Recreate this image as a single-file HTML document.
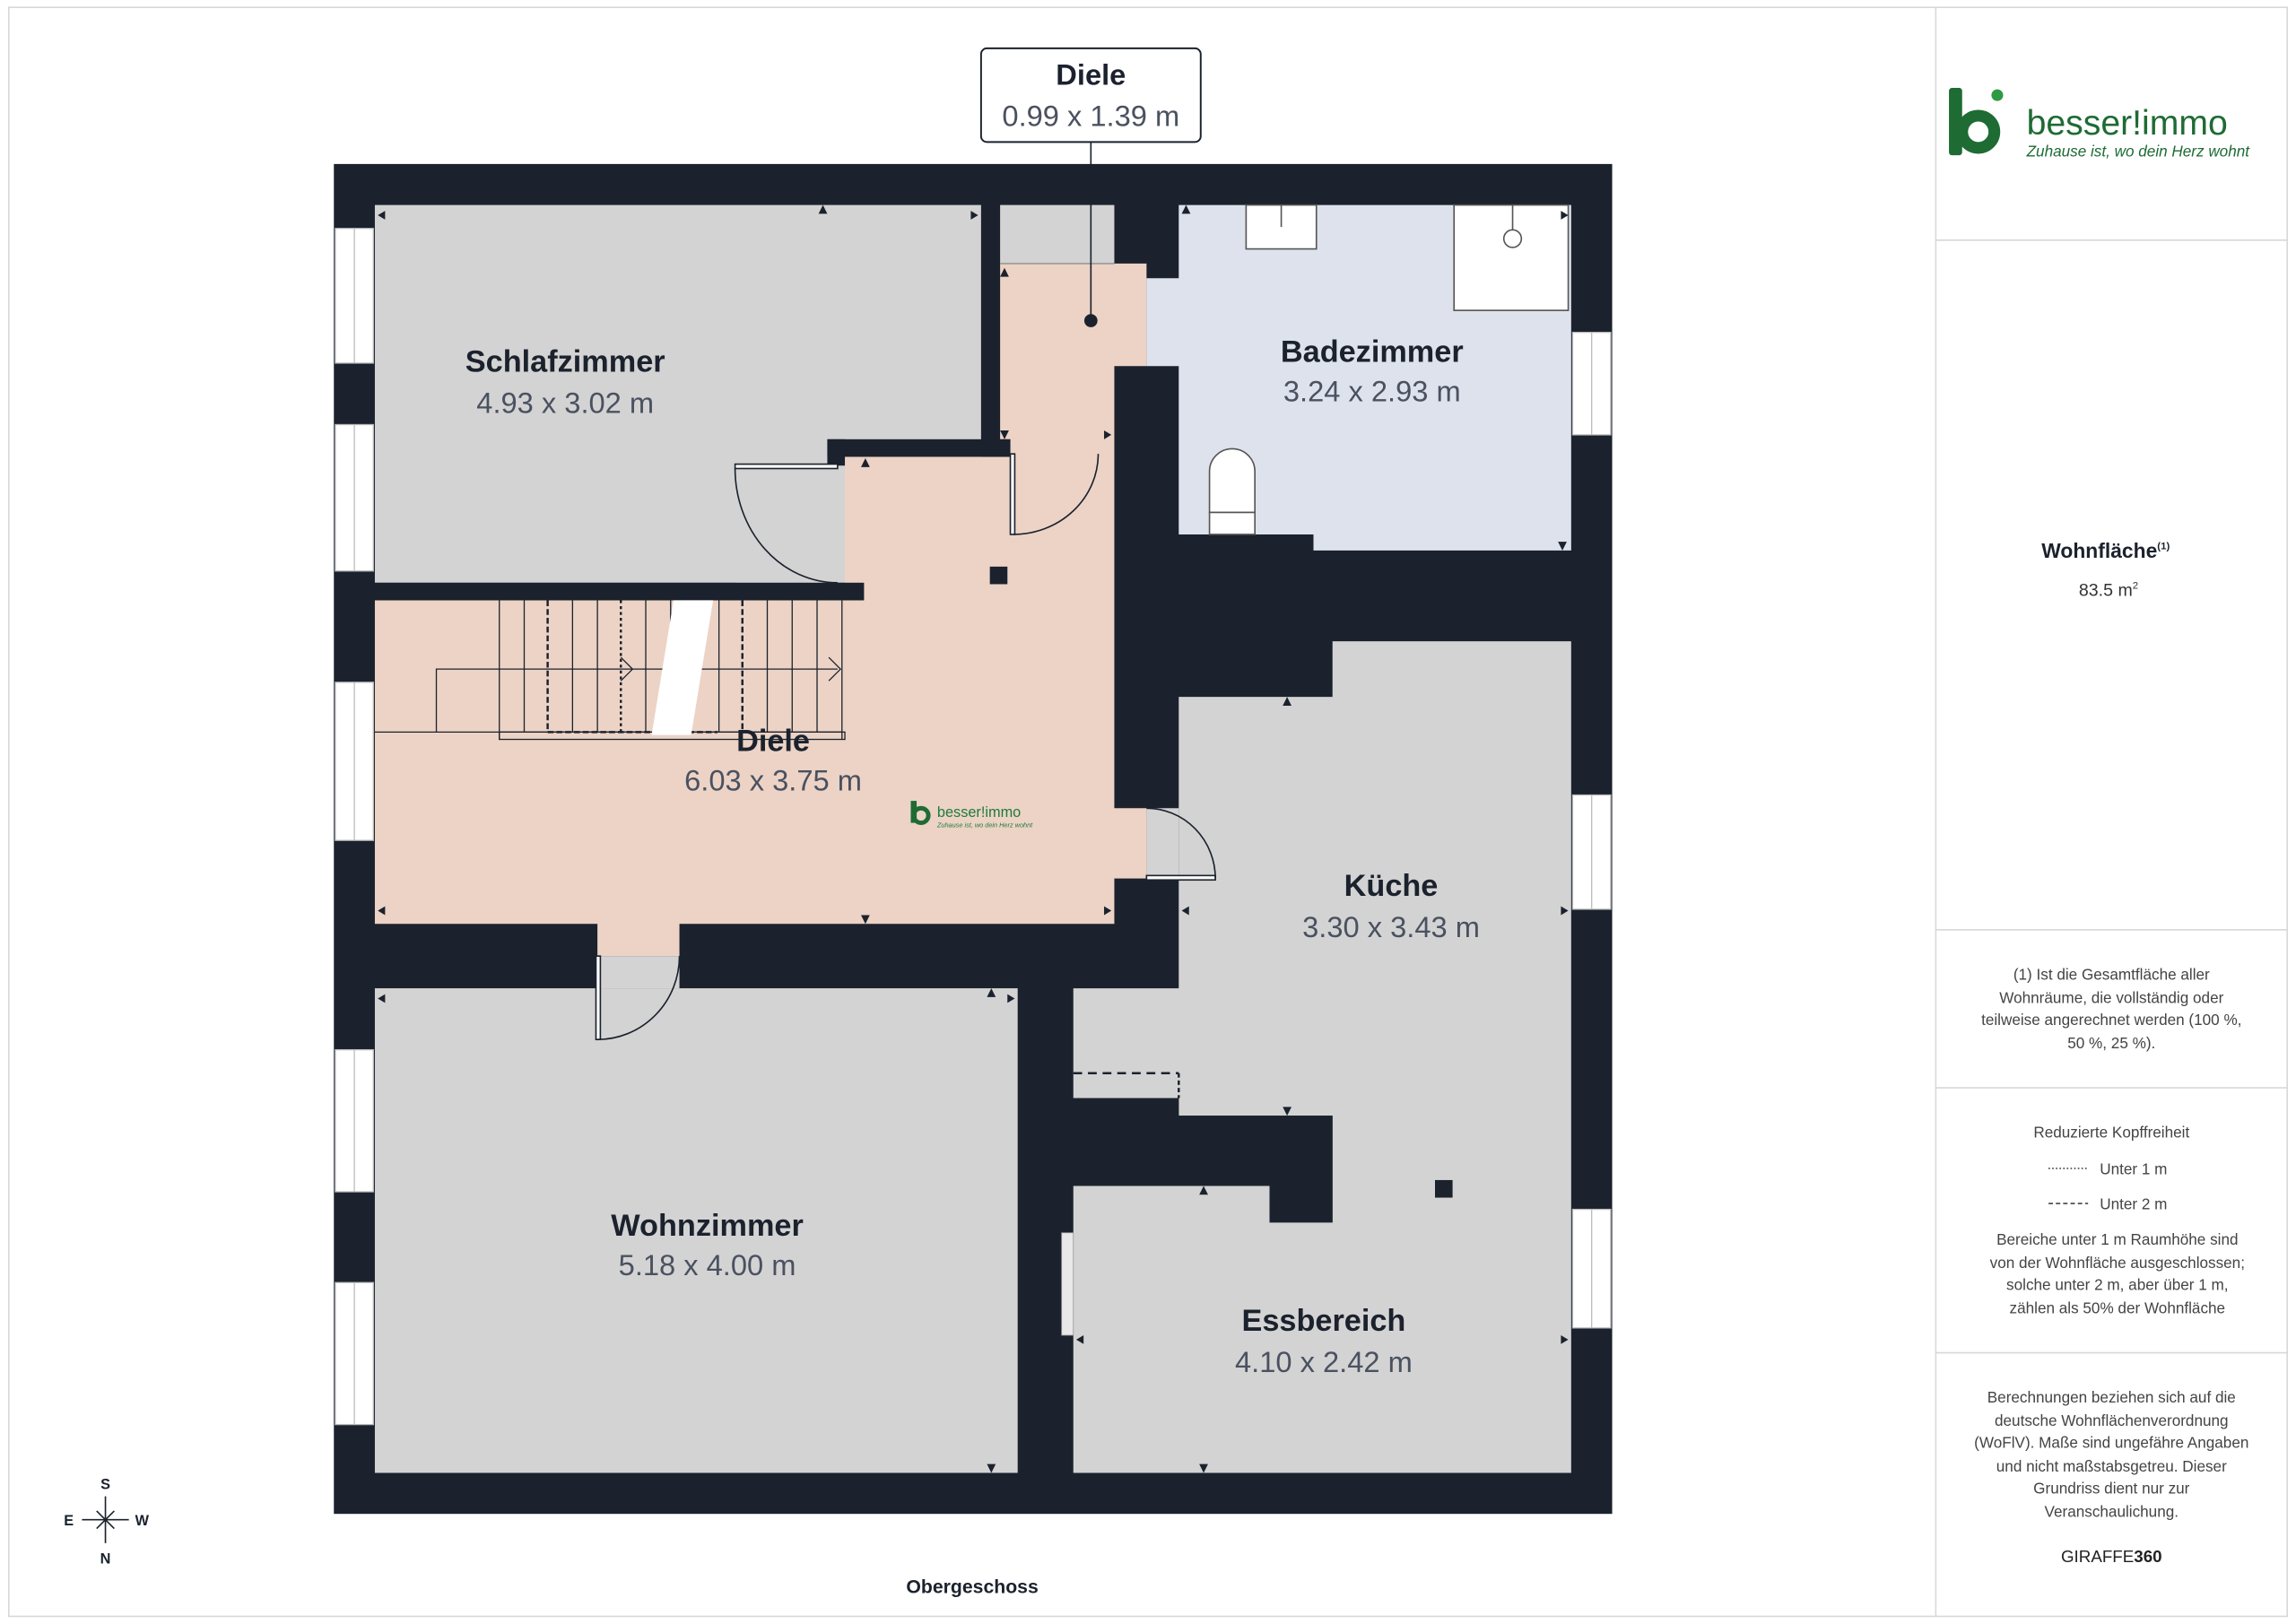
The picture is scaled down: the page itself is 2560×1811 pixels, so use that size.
<!DOCTYPE html>
<html><head><meta charset="utf-8"><style>
html,body{margin:0;padding:0;background:#fff}
svg{display:block}
text{font-family:"Liberation Sans",sans-serif}
</style></head><body>
<svg width="2560" height="1811" viewBox="0 0 1568 1109.2" xmlns="http://www.w3.org/2000/svg">
<rect x="0" y="0" width="1568" height="1110" fill="#fff"/>
<rect x="6" y="5" width="1556" height="1099" fill="none" stroke="#d8d8d8" stroke-width="1"/>
<line x1="1322" y1="5" x2="1322" y2="1104" stroke="#d8d8d8"/>
<line x1="1322" y1="164" x2="1562" y2="164" stroke="#d8d8d8"/>
<line x1="1322" y1="635" x2="1562" y2="635" stroke="#d8d8d8"/>
<line x1="1322" y1="743" x2="1562" y2="743" stroke="#d8d8d8"/>
<line x1="1322" y1="924" x2="1562" y2="924" stroke="#d8d8d8"/>

<rect x="228" y="112" width="873" height="922" fill="#1b222d"/>
<g fill="#d3d3d3">
<rect x="256" y="140" width="414" height="258"/>
<rect x="683" y="140" width="78" height="40"/>
<rect x="256" y="675" width="439" height="331"/>
<polygon points="910,438 1073,438 1073,1006 733,1006 733,810 867,810 867,835 910,835 910,762 805,762 805,750 733,750 733,675 805,675 805,476 910,476"/>
<rect x="783" y="552" width="22" height="48"/>
<rect x="408" y="653" width="56" height="22"/>
<rect x="502" y="318" width="70" height="80"/>
</g>
<g fill="#dde2ec">
<polygon points="805,140 1073,140 1073,376 897,376 897,365 805,365 805,250 783,250 783,190 805,190"/>
</g>
<g fill="#ecd3c5">
<polygon points="683,180 783,180 783,250 761,250 761,552 783,552 783,600 761,600 761,631 464,631 464,653 408,653 408,631 256,631 256,410 590,410 590,398 577,398 577,312 690,312 690,300 683,300"/>
</g>
<rect x="565" y="300" width="125" height="12" fill="#1b222d"/>
<rect x="256" y="398" width="334" height="12" fill="#1b222d"/>
<rect x="565" y="300" width="12" height="18" fill="#1b222d"/>
<polygon points="733,750 805,750 805,762 910,762 910,835 867,835 867,810 733,810" fill="#1b222d"/>
<line x1="733" y1="733" x2="805" y2="733" stroke="#1b222d" stroke-width="1.5" stroke-dasharray="6,4"/>
<line x1="805" y1="733" x2="805" y2="750" stroke="#1b222d" stroke-width="1.5" stroke-dasharray="3,2"/>
<rect x="725" y="842" width="8" height="70" fill="#e8e8e8" stroke="#999" stroke-width="0.5"/>
<rect x="676" y="387" width="12" height="12" fill="#1b222d"/>
<rect x="980" y="806" width="12" height="12" fill="#1b222d"/>

<g fill="#fff" stroke="#bbb" stroke-width="0.8">
<rect x="229" y="156" width="26" height="92"/><rect x="229" y="290" width="26" height="100"/>
<rect x="229" y="466" width="26" height="108"/><rect x="229" y="717" width="26" height="97"/>
<rect x="229" y="876" width="26" height="97"/>
<rect x="1074" y="227" width="26" height="70"/><rect x="1074" y="543" width="26" height="78"/>
<rect x="1074" y="826" width="26" height="81"/>
</g>
<g stroke="#bbb" stroke-width="0.8">
<line x1="242" y1="156" x2="242" y2="248"/><line x1="242" y1="290" x2="242" y2="390"/>
<line x1="242" y1="466" x2="242" y2="574"/><line x1="242" y1="717" x2="242" y2="814"/>
<line x1="242" y1="876" x2="242" y2="973"/>
<line x1="1087" y1="227" x2="1087" y2="297"/><line x1="1087" y1="543" x2="1087" y2="621"/>
<line x1="1087" y1="826" x2="1087" y2="907"/>
</g>

<g fill="none" stroke="#1b222d" stroke-width="1">
<rect x="502" y="317" width="70" height="3" fill="#fff"/>
<path d="M502,320 A70,78 0 0 0 572,398"/>
<rect x="690" y="310" width="3" height="55" fill="#fff"/>
<path d="M692,365 A58,55 0 0 0 750,310"/>
<rect x="783" y="598" width="47" height="3" fill="#fff"/>
<path d="M830,600 A47,48 0 0 0 783,552"/>
<rect x="407" y="653" width="3" height="57" fill="#fff"/>
<path d="M408,710 A56,57 0 0 0 464,653"/>
<line x1="683" y1="180" x2="761" y2="180" stroke="#999"/>
</g>

<g stroke="#1b222d" stroke-width="0.8" fill="none">
<line x1="341" y1="410" x2="341" y2="505"/><line x1="358" y1="410" x2="358" y2="500"/>
<line x1="391" y1="410" x2="391" y2="500"/><line x1="408" y1="410" x2="408" y2="500"/>
<line x1="441" y1="410" x2="441" y2="500"/><line x1="458" y1="410" x2="458" y2="500"/>
<line x1="491" y1="410" x2="491" y2="500"/><line x1="524" y1="410" x2="524" y2="500"/>
<line x1="541" y1="410" x2="541" y2="500"/><line x1="558" y1="410" x2="558" y2="500"/>
<line x1="575" y1="410" x2="575" y2="505"/>
<line x1="256" y1="500" x2="575" y2="500"/>
<rect x="341" y="500" width="236" height="5"/>
<polyline points="298,500 298,457 572,457"/>
<polyline points="566,449 574,457 566,465"/>
<polyline points="424,449 432,457 424,465"/>
<line x1="374" y1="410" x2="374" y2="500" stroke-dasharray="4,2" stroke-width="1.5"/>
<line x1="424" y1="410" x2="424" y2="500" stroke-dasharray="2,2" stroke-width="1.5"/>
<line x1="507" y1="410" x2="507" y2="500" stroke-dasharray="4,2" stroke-width="1.5"/>
<line x1="374" y1="500" x2="490" y2="500" stroke-dasharray="4,2" stroke-width="1.5"/>
</g>
<polygon points="460,410 487,410 472,502 445,502" fill="#fff"/>

<g fill="#fff" stroke="#555" stroke-width="1">
<rect x="851" y="140" width="48" height="30"/><line x1="875" y1="140" x2="875" y2="155"/>
<rect x="993" y="140" width="78" height="72"/><circle cx="1033" cy="163" r="6"/>
<line x1="1033" y1="140" x2="1033" y2="157"/>
<path d="M826,350 L826,322 A15.5,15.5 0 0 1 857,322 L857,350 Z"/>
<rect x="826" y="350" width="31" height="15"/>
</g>

<g fill="#1b222d">
<polygon points="258,147 263,144 263,150"/><polygon points="668,147 663,144 663,150"/><polygon points="562,140 559,146 565,146"/>
<polygon points="1071,147 1066,144 1066,150"/><polygon points="810,140 807,146 813,146"/>
<polygon points="1067,376 1064,370 1070,370"/>
<polygon points="591,313 588,319 594,319"/><polygon points="591,631 588,625 594,625"/>
<polygon points="258,622 263,619 263,625"/><polygon points="759,622 754,619 754,625"/>
<polygon points="879,476 876,482 882,482"/><polygon points="879,762 876,756 882,756"/>
<polygon points="807,622 812,619 812,625"/><polygon points="1071,622 1066,619 1066,625"/>
<polygon points="258,682 263,679 263,685"/><polygon points="693,682 688,679 688,685"/><polygon points="677,675 674,681 680,681"/>
<polygon points="677,1006 674,1000 680,1000"/>
<polygon points="822,810 819,816 825,816"/><polygon points="822,1006 819,1000 825,1000"/>
<polygon points="735,915 740,912 740,918"/><polygon points="1071,915 1066,912 1066,918"/>
<polygon points="686,183 683,189 689,189"/><polygon points="686,300 683,294 689,294"/><polygon points="759,297 754,294 754,300"/>
</g>

<line x1="745" y1="97" x2="745" y2="219" stroke="#1b222d" stroke-width="1"/>
<circle cx="745" cy="219" r="4.5" fill="#1b222d"/>
<rect x="670" y="33" width="150" height="64" rx="4" fill="#fff" stroke="#1b222d" stroke-width="1.2"/>
<text x="745" y="58" text-anchor="middle" font-size="20" font-weight="bold" fill="#1b222d">Diele</text>
<text x="745" y="86" text-anchor="middle" font-size="20" fill="#4a5160">0.99 x 1.39 m</text>

<g text-anchor="middle">
<text x="386" y="254" font-size="21" font-weight="bold" fill="#1b222d">Schlafzimmer</text>
<text x="386" y="282" font-size="20" fill="#4a5160">4.93 x 3.02 m</text>
<text x="937" y="247" font-size="21" font-weight="bold" fill="#1b222d">Badezimmer</text>
<text x="937" y="274" font-size="20" fill="#4a5160">3.24 x 2.93 m</text>
<text x="528" y="513" font-size="21" font-weight="bold" fill="#1b222d">Diele</text>
<text x="528" y="540" font-size="20" fill="#4a5160">6.03 x 3.75 m</text>
<text x="950" y="612" font-size="21" font-weight="bold" fill="#1b222d">Küche</text>
<text x="950" y="640" font-size="20" fill="#4a5160">3.30 x 3.43 m</text>
<text x="483" y="844" font-size="21" font-weight="bold" fill="#1b222d">Wohnzimmer</text>
<text x="483" y="871" font-size="20" fill="#4a5160">5.18 x 4.00 m</text>
<text x="904" y="909" font-size="21" font-weight="bold" fill="#1b222d">Essbereich</text>
<text x="904" y="937" font-size="20" fill="#4a5160">4.10 x 2.42 m</text>
</g>

<rect x="622" y="547" width="4" height="15" fill="#1e6b34"/>
<circle cx="629" cy="557" r="5" fill="none" stroke="#1e6b34" stroke-width="3"/>
<text x="640" y="558" font-size="10" fill="#1e7b3a">besser!immo</text>
<text x="640" y="565" font-size="4.5" font-style="italic" fill="#1e7b3a">Zuhause ist, wo dein Herz wohnt</text>

<g stroke="#1b222d" stroke-width="1" fill="none">
<line x1="72" y1="1022" x2="72" y2="1054"/><line x1="56" y1="1038" x2="88" y2="1038"/>
<line x1="66" y1="1032" x2="78" y2="1044"/><line x1="78" y1="1032" x2="66" y2="1044"/>
</g>
<g font-size="10" font-weight="bold" fill="#1b222d" text-anchor="middle">
<text x="72" y="1017">S</text><text x="72" y="1068">N</text><text x="47" y="1042">E</text><text x="97" y="1042">W</text>
</g>
<text x="664" y="1088" text-anchor="middle" font-size="13" font-weight="bold" fill="#1b222d">Obergeschoss</text>

<rect x="1331" y="60" width="9" height="46" rx="2" fill="#1e6b34"/>
<circle cx="1351" cy="90" r="11" fill="none" stroke="#1e6b34" stroke-width="8"/>
<circle cx="1364" cy="65" r="4" fill="#2e9a44"/>
<text x="1384" y="92" font-size="24" fill="#1e6b34">besser!immo</text>
<text x="1384" y="107" font-size="10.5" font-style="italic" fill="#1e6b34">Zuhause ist, wo dein Herz wohnt</text>

<g text-anchor="middle" fill="#1b222d">
<text x="1438" y="381" font-size="14" font-weight="bold">Wohnfläche<tspan font-size="7" dy="-6">(1)</tspan></text>
<text x="1440" y="407" font-size="12" fill="#333">83.5 m<tspan font-size="7" dy="-5">2</tspan></text>
<g font-size="10.5" fill="#444">
<text x="1442" y="669">(1) Ist die Gesamtfläche aller</text>
<text x="1442" y="685">Wohnräume, die vollständig oder</text>
<text x="1442" y="700">teilweise angerechnet werden (100 %,</text>
<text x="1442" y="716">50 %, 25 %).</text>
<text x="1442" y="777">Reduzierte Kopffreiheit</text>
<text x="1434" y="802" text-anchor="start">Unter 1 m</text>
<text x="1434" y="826" text-anchor="start">Unter 2 m</text>
<text x="1446" y="850">Bereiche unter 1 m Raumhöhe sind</text>
<text x="1446" y="866">von der Wohnfläche ausgeschlossen;</text>
<text x="1446" y="881">solche unter 2 m, aber über 1 m,</text>
<text x="1446" y="897">zählen als 50% der Wohnfläche</text>
<text x="1442" y="958">Berechnungen beziehen sich auf die</text>
<text x="1442" y="974">deutsche Wohnflächenverordnung</text>
<text x="1442" y="989">(WoFlV). Maße sind ungefähre Angaben</text>
<text x="1442" y="1005">und nicht maßstabsgetreu. Dieser</text>
<text x="1442" y="1020">Grundriss dient nur zur</text>
<text x="1442" y="1036">Veranschaulichung.</text>
</g>
<text x="1442" y="1067" font-size="11.5" fill="#222">GIRAFFE<tspan font-weight="bold">360</tspan></text>
</g>
<line x1="1399" y1="798" x2="1426" y2="798" stroke="#444" stroke-width="1" stroke-dasharray="1,1.5"/>
<line x1="1399" y1="822" x2="1426" y2="822" stroke="#444" stroke-width="1" stroke-dasharray="3,2"/>
</svg>
</body></html>
